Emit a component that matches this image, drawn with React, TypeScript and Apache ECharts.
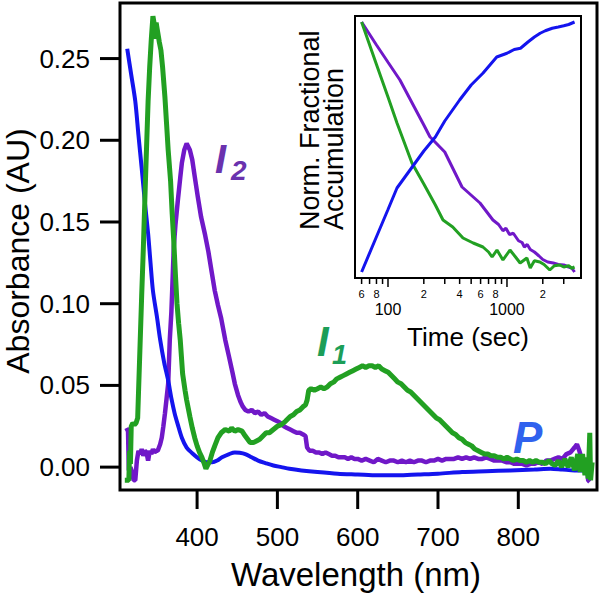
import React, { useEffect, useRef } from 'react';
import * as echarts from 'echarts';

// ---------- Main panel: absorbance spectra ----------
const wlBlue = [313, 318, 323, 327, 331, 335, 339, 342, 345, 350, 354, 359, 364, 368, 372, 376, 381, 387, 394, 400, 406, 412, 419, 425, 431, 440, 447, 453, 460, 468, 476, 485, 495, 505, 515, 530, 550, 575, 600, 625, 650, 675, 700, 730, 760, 790, 820, 840, 855, 870, 885, 893];
const absBlue = [0.256, 0.240, 0.224, 0.203, 0.183, 0.162, 0.143, 0.125, 0.108, 0.092, 0.078, 0.064, 0.053, 0.042, 0.033, 0.026, 0.018, 0.012, 0.0085, 0.006, 0.004, 0.003, 0.003, 0.004, 0.006, 0.008, 0.009, 0.0088, 0.008, 0.006, 0.004, 0.0025, 0.001, 0.0, -0.001, -0.002, -0.003, -0.004, -0.0045, -0.005, -0.005, -0.0045, -0.004, -0.003, -0.0025, -0.002, -0.0015, -0.001, -0.0015, -0.002, -0.002, -0.002];

const wlGreen = [310, 313, 315, 316, 317, 318, 320, 322, 324, 326, 329, 331, 333, 336, 339, 341, 343, 345, 347, 348, 349, 351, 353, 355, 357, 360, 362, 364, 367, 369, 371, 373, 375, 377, 379, 382, 385, 387, 389, 391, 394, 397, 400, 403, 406, 409, 411, 413, 416, 419, 422, 426, 430, 435, 440, 443, 447, 451, 456, 460, 463, 466, 470, 474, 478, 482, 486, 490, 495, 500, 505, 510, 516, 520, 524, 528, 532, 535, 537, 539, 542, 546, 550, 554, 558, 562, 566, 570, 574, 578, 582, 586, 590, 594, 598, 602, 606, 610, 614, 618, 622, 626, 630, 634, 638, 642, 646, 650, 654, 658, 662, 666, 670, 674, 678, 682, 686, 690, 694, 698, 702, 706, 710, 714, 718, 722, 726, 730, 734, 738, 742, 746, 750, 754, 758, 762, 766, 770, 774, 778, 782, 786, 790, 794, 798, 802, 806, 810, 814, 818, 822, 826, 830, 834, 838, 842, 846, 850, 854, 858, 862, 866, 870, 874, 877, 880, 883, 885, 887, 889, 890, 892];
const absGreen = [-0.008, -0.008, -0.008, 0.010, 0.002, 0.025, 0.027, 0.026, 0.027, 0.030, 0.075, 0.105, 0.133, 0.180, 0.224, 0.245, 0.262, 0.276, 0.270, 0.262, 0.272, 0.266, 0.260, 0.255, 0.245, 0.226, 0.210, 0.194, 0.175, 0.155, 0.138, 0.118, 0.100, 0.088, 0.078, 0.057, 0.047, 0.041, 0.036, 0.031, 0.024, 0.018, 0.013, 0.009, 0.006, 0.002, -0.001, 0.001, 0.004, 0.009, 0.013, 0.018, 0.021, 0.023, 0.022, 0.024, 0.022, 0.023, 0.022, 0.019, 0.017, 0.015, 0.015, 0.016, 0.017, 0.019, 0.021, 0.021, 0.023, 0.025, 0.026, 0.028, 0.031, 0.032, 0.034, 0.035, 0.037, 0.038, 0.041, 0.047, 0.048, 0.047, 0.048, 0.049, 0.048, 0.049, 0.051, 0.052, 0.054, 0.055, 0.056, 0.057, 0.058, 0.059, 0.060, 0.061, 0.062, 0.061, 0.062, 0.062, 0.061, 0.062, 0.060, 0.059, 0.058, 0.056, 0.054, 0.052, 0.051, 0.049, 0.047, 0.046, 0.044, 0.042, 0.040, 0.038, 0.036, 0.034, 0.032, 0.030, 0.029, 0.027, 0.025, 0.023, 0.021, 0.020, 0.018, 0.017, 0.015, 0.014, 0.013, 0.011, 0.010, 0.009, 0.008, 0.008, 0.007, 0.007, 0.006, 0.006, 0.005, 0.006, 0.005, 0.004, 0.005, 0.004, 0.004, 0.003, 0.004, 0.003, 0.004, 0.003, 0.003, 0.002, 0.004, 0.002, 0.001, 0.004, 0.000, 0.005, 0.000, 0.006, -0.002, 0.008, -0.003, 0.008, -0.005, 0.006, -0.007, 0.021, -0.008, 0.003];

const wlPurple = [312, 314, 315, 317, 319, 321, 323, 325, 327, 329, 331, 333, 335, 337, 339, 341, 343, 345, 347, 349, 351, 354, 356, 358, 360, 362, 364, 366, 368, 369, 371, 373, 376, 379, 381, 384, 387, 389, 391, 394, 397, 401, 405, 410, 414, 418, 422, 426, 430, 435, 440, 444, 447, 451, 454, 457, 460, 464, 468, 472, 476, 480, 484, 488, 492, 496, 500, 504, 508, 512, 516, 520, 524, 528, 532, 535, 537, 540, 544, 548, 552, 556, 560, 564, 568, 572, 576, 580, 584, 588, 592, 596, 600, 605, 610, 615, 620, 625, 630, 635, 640, 645, 650, 655, 660, 665, 670, 675, 680, 685, 690, 695, 700, 705, 710, 715, 720, 725, 730, 735, 740, 745, 750, 755, 760, 765, 770, 775, 780, 785, 790, 795, 800, 805, 810, 815, 820, 825, 830, 835, 840, 845, 850, 855, 860, 865, 870, 873, 876, 879, 882, 885, 887, 889];
const absPurple = [0.024, 0.022, -0.002, 0.000, -0.003, -0.008, -0.008, 0.004, 0.010, 0.008, 0.011, 0.007, 0.010, 0.009, 0.004, 0.010, 0.008, 0.011, 0.009, 0.010, 0.010, 0.014, 0.018, 0.025, 0.033, 0.042, 0.051, 0.078, 0.095, 0.108, 0.135, 0.148, 0.163, 0.177, 0.186, 0.194, 0.198, 0.196, 0.194, 0.188, 0.178, 0.165, 0.153, 0.142, 0.132, 0.120, 0.108, 0.099, 0.091, 0.078, 0.067, 0.058, 0.051, 0.044, 0.040, 0.037, 0.035, 0.034, 0.035, 0.033, 0.034, 0.032, 0.033, 0.031, 0.030, 0.029, 0.028, 0.027, 0.025, 0.024, 0.023, 0.022, 0.021, 0.021, 0.020, 0.019, 0.012, 0.010, 0.010, 0.009, 0.009, 0.008, 0.009, 0.008, 0.007, 0.007, 0.006, 0.006, 0.006, 0.005, 0.006, 0.005, 0.005, 0.004, 0.005, 0.004, 0.003, 0.005, 0.004, 0.003, 0.004, 0.004, 0.003, 0.004, 0.003, 0.004, 0.003, 0.004, 0.004, 0.003, 0.004, 0.004, 0.005, 0.004, 0.005, 0.005, 0.005, 0.006, 0.005, 0.006, 0.005, 0.006, 0.005, 0.005, 0.006, 0.005, 0.004, 0.004, 0.004, 0.003, 0.003, 0.002, 0.002, 0.002, 0.001, 0.002, 0.002, 0.003, 0.002, 0.004, 0.004, 0.005, 0.006, 0.005, 0.008, 0.009, 0.012, 0.014, 0.010, 0.005, -0.002, 0.004, -0.008, -0.009];

const X_MIN = 304;
const X_MAX = 898;
const Y_MIN = -0.014;
const Y_MAX = 0.284;
const xTicks = [400, 500, 600, 700, 800];
const yTicks = [0, 0.05, 0.1, 0.15, 0.2, 0.25];

// ---------- Inset: normalized fractional accumulation vs time ----------
const tBlue = [60, 80, 100, 119, 150, 200, 250, 300, 400, 500, 630, 820, 1000, 1150, 1300, 1500, 1700, 1900, 2100, 2400, 2700, 3000, 3300, 3700];
const accBlue = [0.0, 0.141, 0.25, 0.336, 0.402, 0.484, 0.54, 0.604, 0.688, 0.748, 0.796, 0.86, 0.875, 0.89, 0.895, 0.92, 0.94, 0.955, 0.965, 0.975, 0.98, 0.985, 0.99, 1.0];

const tPurple = [60, 80, 100, 126, 150, 200, 225, 300, 419, 593, 762, 850, 925, 980, 1050, 1130, 1250, 1340, 1400, 1480, 1570, 1700, 1850, 2000, 2200, 2450, 2700, 3000, 3300, 3500, 3700];
const accPurple = [1.0, 0.908, 0.839, 0.768, 0.70, 0.588, 0.541, 0.48, 0.34, 0.276, 0.208, 0.19, 0.165, 0.175, 0.15, 0.155, 0.125, 0.118, 0.10, 0.11, 0.09, 0.08, 0.065, 0.05, 0.04, 0.036, 0.03, 0.028, 0.02, 0.016, 0.0];

const tGreen = [60, 80, 100, 119, 159, 200, 250, 290, 350, 427, 520, 628, 700, 750, 824, 925, 1060, 1180, 1290, 1470, 1570, 1700, 1890, 2050, 2290, 2500, 2780, 3000, 3300, 3500, 3700];
const accGreen = [1.0, 0.83, 0.70, 0.596, 0.436, 0.352, 0.268, 0.208, 0.18, 0.136, 0.116, 0.10, 0.08, 0.06, 0.088, 0.048, 0.088, 0.06, 0.036, 0.056, 0.016, 0.045, 0.04, 0.03, 0.008, 0.025, 0.028, 0.02, 0.025, 0.015, 0.02];

const T_MIN = 52.8;
const T_MAX = 4190;
const A_MIN = -0.024;
const A_MAX = 1.024;
const insetMinorTicks = [60, 70, 80, 90, 200, 300, 400, 500, 600, 700, 800, 900, 2000, 3000];
const insetMajorTicks = [100, 1000];
const insetLabels = [60, 80, 100, 200, 400, 600, 800, 1000, 2000];

const BLUE = '#1414ee';
const GREEN = '#22a022';
const PURPLE = '#7018c8';
const FONT = 'Liberation Sans';

const pairs = (xs: number[], ys: number[]) => xs.map((x, i) => [x, ys[i]]);

// tick marks drawn as a custom series, positioned through the axes' own scales
function tickSeries(values: number[], fixed: number, dir: 'down' | 'left', len: number, width: number) {
  return {
    type: 'custom',
    clip: false,
    silent: true,
    z: 10,
    data: values.map((v) => (dir === 'down' ? [v, fixed] : [fixed, v])),
    renderItem: (_params: any, api: any) => {
      const p = api.coord([api.value(0), api.value(1)]);
      const shape = dir === 'down'
        ? { x1: p[0], y1: p[1], x2: p[0], y2: p[1] + len }
        : { x1: p[0] - len, y1: p[1], x2: p[0], y2: p[1] };
      return { type: 'line', shape, style: { stroke: '#000', lineWidth: width } };
    },
  };
}

export default function App() {
  const mainRef = useRef<HTMLDivElement>(null);
  const insetRef = useRef<HTMLDivElement>(null);
  useEffect(() => {
    if (!mainRef.current || !insetRef.current) return;
    const main = echarts.init(mainRef.current, undefined, { renderer: 'svg' });
    const inset = echarts.init(insetRef.current, undefined, { renderer: 'svg' });

    main.setOption({
      animation: false,
      grid: [{ left: 120, top: 3, width: 477, height: 487, show: true, borderColor: '#000', borderWidth: 3 }],
      xAxis: [{
        type: 'value', min: X_MIN, max: X_MAX,
        axisLine: { show: false, onZero: false },
        splitLine: { show: false },
        axisTick: { show: false },
        axisLabel: { customValues: xTicks, fontSize: 26, color: '#000', fontFamily: FONT, margin: 34 },
      }],
      yAxis: [{
        type: 'value', min: Y_MIN, max: Y_MAX,
        axisLine: { show: false, onZero: false },
        splitLine: { show: false },
        axisTick: { show: false },
        axisLabel: { customValues: yTicks, fontSize: 26, color: '#000', fontFamily: FONT, margin: 30, formatter: (v: number) => v.toFixed(2) },
      }],
      series: [
        { type: 'line', data: pairs(wlPurple, absPurple), showSymbol: false, lineStyle: { color: PURPLE, width: 4.5 } },
        { type: 'line', data: pairs(wlBlue, absBlue), showSymbol: false, smooth: 0.3, lineStyle: { color: BLUE, width: 4 } },
        { type: 'line', data: pairs(wlGreen, absGreen), showSymbol: false, lineStyle: { color: GREEN, width: 5 } },
        tickSeries(xTicks, Y_MIN, 'down', 19, 3),
        tickSeries(yTicks, X_MIN, 'left', 20, 3),
      ],
      graphic: [
        { type: 'text', x: 18, y: 251, rotation: Math.PI / 2, style: { text: 'Absorbance (AU)', fontSize: 32, fontFamily: FONT, fill: '#000', textAlign: 'center', textVerticalAlign: 'middle' } },
        { type: 'text', x: 356, y: 574, style: { text: 'Wavelength (nm)', fontSize: 33, fontFamily: FONT, fill: '#000', textAlign: 'center', textVerticalAlign: 'middle' } },
        { type: 'text', x: 215, y: 159, style: { text: 'I', fontSize: 40, fontWeight: 'bold', fontStyle: 'italic', fontFamily: FONT, fill: '#6a32ae', textAlign: 'left', textVerticalAlign: 'middle' } },
        { type: 'text', x: 231, y: 170, style: { text: '2', fontSize: 28, fontWeight: 'bold', fontStyle: 'italic', fontFamily: FONT, fill: '#6a32ae', textAlign: 'left', textVerticalAlign: 'middle' } },
        { type: 'text', x: 317, y: 341, style: { text: 'I', fontSize: 42, fontWeight: 'bold', fontStyle: 'italic', fontFamily: FONT, fill: '#1c9e58', textAlign: 'left', textVerticalAlign: 'middle' } },
        { type: 'text', x: 332, y: 355, style: { text: '1', fontSize: 27, fontWeight: 'bold', fontStyle: 'italic', fontFamily: FONT, fill: '#1c9e58', textAlign: 'left', textVerticalAlign: 'middle' } },
        { type: 'text', x: 513, y: 437, style: { text: 'P', fontSize: 44, fontWeight: 'bold', fontStyle: 'italic', fontFamily: FONT, fill: '#3062ee', textAlign: 'left', textVerticalAlign: 'middle' } },
      ],
    });

    const leading = (v: number) => String(Math.round(v / Math.pow(10, Math.floor(Math.log10(v) + 1e-9))));
    inset.setOption({
      animation: false,
      backgroundColor: 'transparent',
      grid: [{ left: 355, top: 16, width: 226, height: 262, show: true, borderColor: '#000', borderWidth: 2 }],
      xAxis: [{
        type: 'log', min: T_MIN, max: T_MAX,
        axisLine: { show: false, onZero: false },
        splitLine: { show: false },
        axisTick: { show: false },
        axisLabel: {
          customValues: insetLabels, fontSize: 11, color: '#000', fontFamily: FONT, margin: 10,
          formatter: (v: number) => (insetMajorTicks.indexOf(Math.round(v)) >= 0 ? '{maj|' + Math.round(v) + '}' : leading(v)),
          rich: { maj: { fontSize: 16, fontFamily: FONT, color: '#000', padding: [13, 0, 0, 0] } },
        },
      }],
      yAxis: [{
        type: 'value', min: A_MIN, max: A_MAX,
        axisLine: { show: false, onZero: false },
        axisTick: { show: false }, axisLabel: { show: false }, splitLine: { show: false },
      }],
      series: [
        { type: 'line', data: pairs(tPurple, accPurple), showSymbol: false, lineStyle: { color: PURPLE, width: 3 } },
        { type: 'line', data: pairs(tGreen, accGreen), showSymbol: false, lineStyle: { color: GREEN, width: 3 } },
        { type: 'line', data: pairs(tBlue, accBlue), showSymbol: false, lineStyle: { color: BLUE, width: 3 } },
        tickSeries(insetMinorTicks, A_MIN, 'down', 6, 1.5),
        tickSeries(insetMajorTicks, A_MIN, 'down', 9, 1.5),
      ],
      graphic: [
        { type: 'text', x: 310, y: 230, rotation: Math.PI / 2, style: { text: 'Norm. Fractional', fontSize: 27, fontFamily: FONT, fill: '#000', textAlign: 'left', textVerticalAlign: 'middle' } },
        { type: 'text', x: 334, y: 230, rotation: Math.PI / 2, style: { text: 'Accumulation', fontSize: 27, fontFamily: FONT, fill: '#000', textAlign: 'left', textVerticalAlign: 'middle' } },
        { type: 'text', x: 468, y: 337, style: { text: 'Time (sec)', fontSize: 26, fontFamily: FONT, fill: '#000', textAlign: 'center', textVerticalAlign: 'middle' } },
      ],
    });
    return () => { main.dispose(); inset.dispose(); };
  }, []);
  return (
    <div>
      <div ref={mainRef} style={{ position: 'absolute', left: 0, top: 0, width: 600, height: 594 }} />
      <div ref={insetRef} style={{ position: 'absolute', left: 0, top: 0, width: 600, height: 594 }} />
    </div>
  );
}
